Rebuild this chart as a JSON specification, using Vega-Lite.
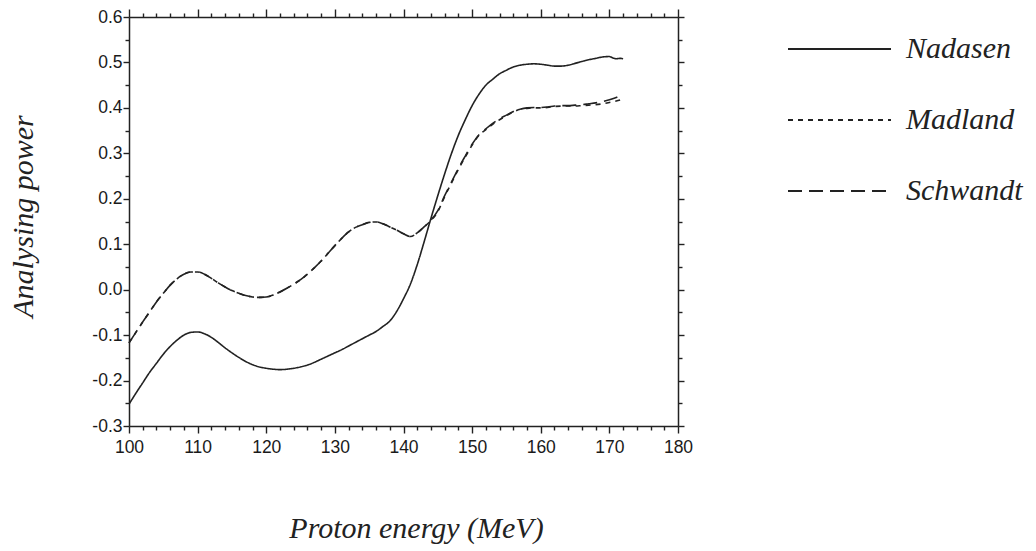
{
  "$schema": "https://vega.github.io/schema/vega-lite/v6.json",
  "width": 549,
  "height": 409,
  "autosize": {"type": "none"},
  "padding": {"left": 129, "top": 17, "right": 358, "bottom": 125},
  "background": "white",
  "datasets": {
    "curves": [
      {"model":"Nadasen","E":100,"A":-0.252},{"model":"Nadasen","E":101,"A":-0.228},{"model":"Nadasen","E":102,"A":-0.205},{"model":"Nadasen","E":103,"A":-0.182},{"model":"Nadasen","E":104,"A":-0.162},{"model":"Nadasen","E":105,"A":-0.142},{"model":"Nadasen","E":106,"A":-0.125},{"model":"Nadasen","E":107,"A":-0.111},{"model":"Nadasen","E":108,"A":-0.100},{"model":"Nadasen","E":109,"A":-0.094},{"model":"Nadasen","E":110,"A":-0.093},{"model":"Nadasen","E":111,"A":-0.097},{"model":"Nadasen","E":112,"A":-0.105},{"model":"Nadasen","E":113,"A":-0.116},{"model":"Nadasen","E":114,"A":-0.128},{"model":"Nadasen","E":115,"A":-0.139},{"model":"Nadasen","E":116,"A":-0.149},{"model":"Nadasen","E":117,"A":-0.158},{"model":"Nadasen","E":118,"A":-0.165},{"model":"Nadasen","E":119,"A":-0.170},{"model":"Nadasen","E":120,"A":-0.173},{"model":"Nadasen","E":121,"A":-0.175},{"model":"Nadasen","E":122,"A":-0.176},{"model":"Nadasen","E":123,"A":-0.175},{"model":"Nadasen","E":124,"A":-0.173},{"model":"Nadasen","E":125,"A":-0.170},{"model":"Nadasen","E":126,"A":-0.166},{"model":"Nadasen","E":127,"A":-0.160},{"model":"Nadasen","E":128,"A":-0.153},{"model":"Nadasen","E":129,"A":-0.146},{"model":"Nadasen","E":130,"A":-0.139},{"model":"Nadasen","E":131,"A":-0.132},{"model":"Nadasen","E":132,"A":-0.124},{"model":"Nadasen","E":133,"A":-0.116},{"model":"Nadasen","E":134,"A":-0.108},{"model":"Nadasen","E":135,"A":-0.100},{"model":"Nadasen","E":136,"A":-0.092},{"model":"Nadasen","E":137,"A":-0.081},{"model":"Nadasen","E":138,"A":-0.069},{"model":"Nadasen","E":139,"A":-0.048},{"model":"Nadasen","E":140,"A":-0.020},{"model":"Nadasen","E":141,"A":0.012},{"model":"Nadasen","E":142,"A":0.055},{"model":"Nadasen","E":143,"A":0.105},{"model":"Nadasen","E":144,"A":0.157},{"model":"Nadasen","E":145,"A":0.207},{"model":"Nadasen","E":146,"A":0.255},{"model":"Nadasen","E":147,"A":0.300},{"model":"Nadasen","E":148,"A":0.340},{"model":"Nadasen","E":149,"A":0.374},{"model":"Nadasen","E":150,"A":0.405},{"model":"Nadasen","E":151,"A":0.430},{"model":"Nadasen","E":152,"A":0.450},{"model":"Nadasen","E":153,"A":0.463},{"model":"Nadasen","E":154,"A":0.475},{"model":"Nadasen","E":155,"A":0.483},{"model":"Nadasen","E":156,"A":0.490},{"model":"Nadasen","E":157,"A":0.494},{"model":"Nadasen","E":158,"A":0.496},{"model":"Nadasen","E":159,"A":0.497},{"model":"Nadasen","E":160,"A":0.496},{"model":"Nadasen","E":161,"A":0.494},{"model":"Nadasen","E":162,"A":0.492},{"model":"Nadasen","E":163,"A":0.492},{"model":"Nadasen","E":164,"A":0.494},{"model":"Nadasen","E":165,"A":0.498},{"model":"Nadasen","E":166,"A":0.502},{"model":"Nadasen","E":167,"A":0.506},{"model":"Nadasen","E":168,"A":0.509},{"model":"Nadasen","E":169,"A":0.512},{"model":"Nadasen","E":170,"A":0.513},{"model":"Nadasen","E":170.5,"A":0.510},{"model":"Nadasen","E":171,"A":0.508},{"model":"Nadasen","E":171.5,"A":0.509},{"model":"Nadasen","E":172,"A":0.508},

      {"model":"Madland","E":100,"A":-0.117},{"model":"Madland","E":101,"A":-0.094},{"model":"Madland","E":102,"A":-0.071},{"model":"Madland","E":103,"A":-0.049},{"model":"Madland","E":104,"A":-0.027},{"model":"Madland","E":105,"A":-0.008},{"model":"Madland","E":106,"A":0.010},{"model":"Madland","E":107,"A":0.024},{"model":"Madland","E":108,"A":0.034},{"model":"Madland","E":109,"A":0.039},{"model":"Madland","E":110,"A":0.039},{"model":"Madland","E":111,"A":0.034},{"model":"Madland","E":112,"A":0.025},{"model":"Madland","E":113,"A":0.015},{"model":"Madland","E":114,"A":0.006},{"model":"Madland","E":115,"A":-0.002},{"model":"Madland","E":116,"A":-0.008},{"model":"Madland","E":117,"A":-0.013},{"model":"Madland","E":118,"A":-0.016},{"model":"Madland","E":119,"A":-0.017},{"model":"Madland","E":120,"A":-0.016},{"model":"Madland","E":121,"A":-0.012},{"model":"Madland","E":122,"A":-0.005},{"model":"Madland","E":123,"A":0.003},{"model":"Madland","E":124,"A":0.012},{"model":"Madland","E":125,"A":0.022},{"model":"Madland","E":126,"A":0.034},{"model":"Madland","E":127,"A":0.048},{"model":"Madland","E":128,"A":0.063},{"model":"Madland","E":129,"A":0.080},{"model":"Madland","E":130,"A":0.097},{"model":"Madland","E":131,"A":0.113},{"model":"Madland","E":132,"A":0.127},{"model":"Madland","E":133,"A":0.137},{"model":"Madland","E":134,"A":0.143},{"model":"Madland","E":135,"A":0.148},{"model":"Madland","E":136,"A":0.149},{"model":"Madland","E":137,"A":0.145},{"model":"Madland","E":138,"A":0.138},{"model":"Madland","E":139,"A":0.131},{"model":"Madland","E":140,"A":0.123},{"model":"Madland","E":141,"A":0.117},{"model":"Madland","E":142,"A":0.125},{"model":"Madland","E":143,"A":0.138},{"model":"Madland","E":144,"A":0.152},{"model":"Madland","E":145,"A":0.172},{"model":"Madland","E":146,"A":0.205},{"model":"Madland","E":147,"A":0.235},{"model":"Madland","E":148,"A":0.265},{"model":"Madland","E":149,"A":0.292},{"model":"Madland","E":150,"A":0.318},{"model":"Madland","E":151,"A":0.340},{"model":"Madland","E":152,"A":0.352},{"model":"Madland","E":153,"A":0.364},{"model":"Madland","E":154,"A":0.374},{"model":"Madland","E":155,"A":0.383},{"model":"Madland","E":156,"A":0.391},{"model":"Madland","E":157,"A":0.397},{"model":"Madland","E":158,"A":0.399},{"model":"Madland","E":159,"A":0.400},{"model":"Madland","E":160,"A":0.400},{"model":"Madland","E":161,"A":0.401},{"model":"Madland","E":162,"A":0.403},{"model":"Madland","E":163,"A":0.404},{"model":"Madland","E":164,"A":0.404},{"model":"Madland","E":165,"A":0.404},{"model":"Madland","E":166,"A":0.405},{"model":"Madland","E":167,"A":0.406},{"model":"Madland","E":168,"A":0.407},{"model":"Madland","E":169,"A":0.409},{"model":"Madland","E":170,"A":0.412},{"model":"Madland","E":171,"A":0.415},{"model":"Madland","E":172,"A":0.419},

      {"model":"Schwandt","E":100,"A":-0.117},{"model":"Schwandt","E":101,"A":-0.094},{"model":"Schwandt","E":102,"A":-0.071},{"model":"Schwandt","E":103,"A":-0.049},{"model":"Schwandt","E":104,"A":-0.027},{"model":"Schwandt","E":105,"A":-0.008},{"model":"Schwandt","E":106,"A":0.010},{"model":"Schwandt","E":107,"A":0.024},{"model":"Schwandt","E":108,"A":0.034},{"model":"Schwandt","E":109,"A":0.039},{"model":"Schwandt","E":110,"A":0.039},{"model":"Schwandt","E":111,"A":0.034},{"model":"Schwandt","E":112,"A":0.025},{"model":"Schwandt","E":113,"A":0.015},{"model":"Schwandt","E":114,"A":0.006},{"model":"Schwandt","E":115,"A":-0.002},{"model":"Schwandt","E":116,"A":-0.008},{"model":"Schwandt","E":117,"A":-0.013},{"model":"Schwandt","E":118,"A":-0.016},{"model":"Schwandt","E":119,"A":-0.017},{"model":"Schwandt","E":120,"A":-0.016},{"model":"Schwandt","E":121,"A":-0.012},{"model":"Schwandt","E":122,"A":-0.005},{"model":"Schwandt","E":123,"A":0.003},{"model":"Schwandt","E":124,"A":0.012},{"model":"Schwandt","E":125,"A":0.022},{"model":"Schwandt","E":126,"A":0.034},{"model":"Schwandt","E":127,"A":0.048},{"model":"Schwandt","E":128,"A":0.063},{"model":"Schwandt","E":129,"A":0.080},{"model":"Schwandt","E":130,"A":0.097},{"model":"Schwandt","E":131,"A":0.113},{"model":"Schwandt","E":132,"A":0.127},{"model":"Schwandt","E":133,"A":0.137},{"model":"Schwandt","E":134,"A":0.143},{"model":"Schwandt","E":135,"A":0.148},{"model":"Schwandt","E":136,"A":0.149},{"model":"Schwandt","E":137,"A":0.145},{"model":"Schwandt","E":138,"A":0.138},{"model":"Schwandt","E":139,"A":0.131},{"model":"Schwandt","E":140,"A":0.123},{"model":"Schwandt","E":141,"A":0.117},{"model":"Schwandt","E":142,"A":0.125},{"model":"Schwandt","E":143,"A":0.138},{"model":"Schwandt","E":144,"A":0.153},{"model":"Schwandt","E":145,"A":0.174},{"model":"Schwandt","E":146,"A":0.207},{"model":"Schwandt","E":147,"A":0.237},{"model":"Schwandt","E":148,"A":0.267},{"model":"Schwandt","E":149,"A":0.294},{"model":"Schwandt","E":150,"A":0.320},{"model":"Schwandt","E":151,"A":0.341},{"model":"Schwandt","E":152,"A":0.354},{"model":"Schwandt","E":153,"A":0.366},{"model":"Schwandt","E":154,"A":0.376},{"model":"Schwandt","E":155,"A":0.384},{"model":"Schwandt","E":156,"A":0.392},{"model":"Schwandt","E":157,"A":0.397},{"model":"Schwandt","E":158,"A":0.400},{"model":"Schwandt","E":159,"A":0.401},{"model":"Schwandt","E":160,"A":0.401},{"model":"Schwandt","E":161,"A":0.402},{"model":"Schwandt","E":162,"A":0.404},{"model":"Schwandt","E":163,"A":0.405},{"model":"Schwandt","E":164,"A":0.405},{"model":"Schwandt","E":165,"A":0.406},{"model":"Schwandt","E":166,"A":0.407},{"model":"Schwandt","E":167,"A":0.409},{"model":"Schwandt","E":168,"A":0.411},{"model":"Schwandt","E":169,"A":0.414},{"model":"Schwandt","E":170,"A":0.418},{"model":"Schwandt","E":171,"A":0.423},{"model":"Schwandt","E":172,"A":0.430}
    ]
  },
  "data": {"name": "curves"},
  "layer": [
    {
      "mark": {"type": "line", "interpolate": "monotone", "color": "#222", "strokeWidth": 1.6},
      "encoding": {
        "x": {
          "field": "E", "type": "quantitative",
          "scale": {"domain": [100, 180], "nice": false, "zero": false},
          "axis": {
            "orient": "bottom",
            "values": [100, 110, 120, 130, 140, 150, 160, 170, 180],
            "format": "d",
            "labelFlush": false,
            "tickSize": 7,
            "labelPadding": 5,
            "title": "Proton energy (MeV)",
            "titleX": 287,
            "titleY": 111,
            "titleAlign": "center",
            "titleBaseline": "alphabetic"
          }
        },
        "y": {
          "field": "A", "type": "quantitative",
          "scale": {"domain": [-0.3, 0.6], "nice": false, "zero": false},
          "axis": {
            "orient": "left",
            "values": [-0.3, -0.2, -0.1, 0, 0.1, 0.2, 0.3, 0.4, 0.5, 0.6],
            "labelExpr": "replace(format(datum.value, '.1f'), '\u2212', '-')",
            "labelFlush": false,
            "tickSize": 6,
            "labelPadding": 1,
            "title": "Analysing power",
            "titleAngle": -90,
            "titleX": -97,
            "titleY": 199,
            "titleAlign": "center",
            "titleBaseline": "alphabetic"
          }
        },
        "strokeDash": {
          "field": "model", "type": "nominal",
          "scale": {"domain": ["Nadasen", "Madland", "Schwandt"], "range": [[1, 0], [5, 5], [14, 7]]},
          "legend": {
            "orient": "none",
            "legendX": 658,
            "legendY": 17,
            "title": null,
            "padding": 0,
            "symbolType": "stroke",
            "symbolSize": 10600,
            "symbolStrokeWidth": 1.8,
            "symbolStrokeColor": "#222",
            "clipHeight": 30,
            "rowPadding": 41,
            "labelOffset": 14,
            "labelFont": "Liberation Serif",
            "labelFontStyle": "italic",
            "labelFontSize": 30,
            "labelColor": "#222",
            "labelLimit": 300
          }
        }
      }
    },
    {
      "mark": {"type": "line", "opacity": 0},
      "encoding": {
        "detail": {"field": "model"},
        "x": {"field": "E", "type": "quantitative", "axis": {"orient": "bottom", "values": [102,104,106,108,112,114,116,118,122,124,126,128,132,134,136,138,142,144,146,148,152,154,156,158,162,164,166,168,172,174,176,178], "labels": false, "domain": false, "tickSize": 4, "title": null}},
        "y": {"field": "A", "type": "quantitative", "axis": {"orient": "left", "values": [-0.25,-0.15,-0.05,0.05,0.15,0.25,0.35,0.45,0.55], "labels": false, "domain": false, "tickSize": 4, "title": null}}
      }
    },
    {
      "mark": {"type": "line", "opacity": 0},
      "encoding": {
        "detail": {"field": "model"},
        "x": {"field": "E", "type": "quantitative", "axis": {"orient": "top", "values": [100, 110, 120, 130, 140, 150, 160, 170, 180], "labels": false, "tickSize": 8, "title": null}},
        "y": {"field": "A", "type": "quantitative", "axis": {"orient": "right", "values": [-0.3, -0.2, -0.1, 0, 0.1, 0.2, 0.3, 0.4, 0.5, 0.6], "labels": false, "tickSize": 6, "title": null}}
      }
    },
    {
      "mark": {"type": "line", "opacity": 0},
      "encoding": {
        "detail": {"field": "model"},
        "x": {"field": "E", "type": "quantitative", "axis": {"orient": "top", "values": [102,104,106,108,112,114,116,118,122,124,126,128,132,134,136,138,142,144,146,148,152,154,156,158,162,164,166,168,172,174,176,178], "labels": false, "domain": false, "tickSize": 4, "title": null}},
        "y": {"field": "A", "type": "quantitative", "axis": {"orient": "right", "values": [-0.25,-0.15,-0.05,0.05,0.15,0.25,0.35,0.45,0.55], "labels": false, "domain": false, "tickSize": 4, "title": null}}
      }
    }
  ],
  "resolve": {"axis": {"x": "independent", "y": "independent"}},
  "config": {
    "view": {"stroke": null},
    "axis": {
      "grid": false,
      "domainColor": "#222",
      "domainWidth": 1.5,
      "tickColor": "#222",
      "tickWidth": 1.4,
      "labelColor": "#1a1a1a",
      "labelFont": "Liberation Sans",
      "labelFontSize": 17.5,
      "titleFont": "Liberation Serif",
      "titleFontStyle": "italic",
      "titleFontWeight": "normal",
      "titleFontSize": 30,
      "titleColor": "#222"
    }
  }
}
